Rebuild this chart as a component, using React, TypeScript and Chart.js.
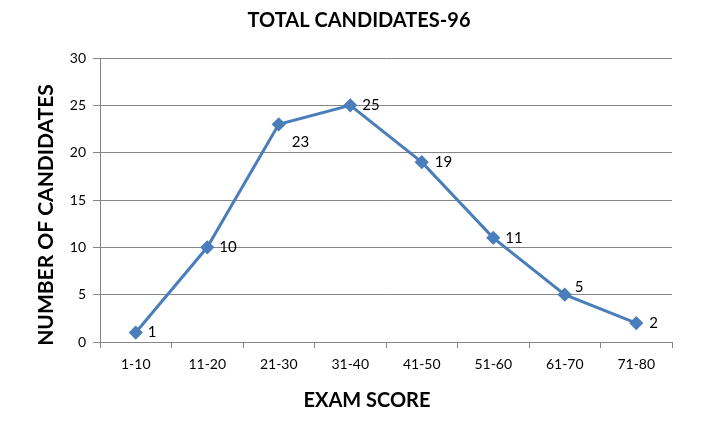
import React, { useEffect, useRef } from "react";
import { Chart, registerables } from "chart.js";

Chart.register(...registerables);

const categories = ["1-10", "11-20", "21-30", "31-40", "41-50", "51-60", "61-70", "71-80"];
const candidates = [1, 10, 23, 25, 19, 11, 5, 2];
const yTicks = [0, 5, 10, 15, 20, 25, 30];
const chartTitle = "TOTAL CANDIDATES-96";
const xTitle = "EXAM SCORE";
const yTitle = "NUMBER OF CANDIDATES";

const FONT = "Lato, 'Open Sans', sans-serif";
const BLUE = "#4a7ebb";
const GRID = "#868686";

// label offsets relative to point (dx, dy)
const labelOffsets: [number, number][] = [
  [12, 0], [12, 0], [13, 18], [12, 0], [13, 0], [12, 0], [10, -8], [13, 0],
];

const textPlugin = {
  id: "texts",
  afterDatasetsDraw(chart: any) {
    const ctx = chart.ctx;
    const meta = chart.getDatasetMeta(0);
    ctx.save();
    ctx.fillStyle = "#000";
    ctx.font = `15px ${FONT}`;
    ctx.textAlign = "left";
    ctx.textBaseline = "middle";
    meta.data.forEach((pt: any, i: number) => {
      const [dx, dy] = labelOffsets[i];
      ctx.fillText(String(candidates[i]), pt.x + dx, pt.y + dy);
    });
    ctx.textAlign = "center";
    ctx.font = `bold 20px ${FONT}`;
    ctx.fillText(chartTitle, 359, 21);
    ctx.font = `bold 20px ${FONT}`;
    ctx.fillText(xTitle, 367, 401);
    ctx.translate(46, 215);
    ctx.rotate(-Math.PI / 2);
    ctx.font = `bold 21px ${FONT}`;
    ctx.fillText(yTitle, 0, 0);
    ctx.restore();
  },
};

export default function App() {
  const ref = useRef<HTMLCanvasElement>(null);
  useEffect(() => {
    const chart = new Chart(ref.current!, {
      type: "line",
      data: {
        labels: categories,
        datasets: [
          {
            data: candidates,
            borderColor: BLUE,
            backgroundColor: BLUE,
            borderWidth: 3,
            pointStyle: "rectRot",
            pointRadius: 5,
            pointBackgroundColor: BLUE,
            pointBorderColor: BLUE,
            tension: 0,
          },
        ],
      },
      plugins: [textPlugin],
      options: {
        responsive: false,
        animation: false,
        devicePixelRatio: 1,
        layout: { padding: { left: 0, top: 58, right: 37, bottom: 0 } },
        plugins: { legend: { display: false }, tooltip: { enabled: false }, title: { display: false } },
        scales: {
          x: {
            offset: true,
            afterFit: (s: any) => { s.height = 92; },
            grid: { offset: true, drawOnChartArea: false, drawTicks: true, tickLength: 6, color: GRID },
            border: { color: GRID, width: 1 },
            ticks: { color: "#000", font: { family: FONT, size: 14 }, padding: 8 },
          },
          y: {
            min: 0,
            max: 30,
            afterFit: (s: any) => { s.width = 100; },
            afterBuildTicks: (s: any) => { s.ticks = yTicks.map((v) => ({ value: v })); },
            grid: { color: GRID, tickLength: 7 },
            border: { color: GRID, width: 1 },
            ticks: { color: "#000", font: { family: FONT, size: 14 }, padding: 7 },
          },
        },
      },
    });
    return () => chart.destroy();
  }, []);
  return (
    <div style={{ position: "fixed", left: 0, top: 0, width: 709, height: 434, background: "#fff" }}>
      <canvas ref={ref} width={709} height={434} />
    </div>
  );
}
